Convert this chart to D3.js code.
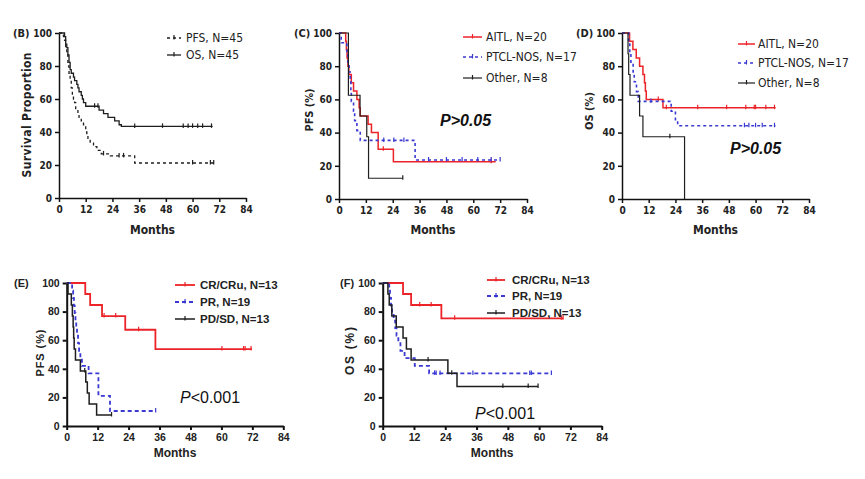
<!DOCTYPE html>
<html><head><meta charset="utf-8">
<script src="https://cdn.jsdelivr.net/npm/d3@7"></script>
<style>body{margin:0;background:#fff} svg{display:block}</style>
</head><body><svg id="c" width="865" height="479"></svg>
<script>
// ---- tick labels ----
const monthTicks = [0, 12, 24, 36, 48, 60, 72, 84];
const pctTicks = [0, 20, 40, 60, 80, 100];

// ---- Panel B (all patients) : [month, survival %] events ----
const B_PFS = [[2,97.8],[2.5,95.6],[3,91.1],[3.5,86.7],[4,80],[4.5,75.6],[5,71.1],[5.5,66.7],[6,62.2],[6.5,60],[7,57.8],[7.5,53.3],[8.5,51.1],[9,48.9],[10,46.7],[11,44.4],[12,40],[12.5,37.8],[13,35.6],[14,33.3],[15.5,31.1],[17,28.9],[19,26.7],[23,25.5],[34,21.2]];
const B_PFS_END = 70, B_PFS_CENS = [20, 27, 29, 60, 68, 69.5];
const B_OS = [[2.5,97.8],[3,93.3],[3.5,91.1],[4,86.7],[4.5,82.2],[5,77.8],[5.5,75.6],[6.5,73.3],[7,71.1],[8,68.9],[8.5,66.7],[9,64.4],[10,62.2],[10.5,60],[11,57.8],[12,55.6],[18,53.3],[20,51.1],[22,48.9],[25,46.7],[27,44.4],[28,43.4]];
const B_OS_END = 69, B_OS_CENS = [16, 17.5, 34, 46.5, 55.8, 58, 60, 62.3, 64.5, 68.5];

// ---- Panel C (PFS by subtype) ----
const C_AITL = [[3,95],[3.3,90],[3.6,85],[4,80],[4.4,75],[5.5,70],[6.5,65],[8,60],[9,55],[9.5,50],[13,45],[14.5,40],[17.5,30],[24.3,22.5]];
const C_AITL_END = 70, C_AITL_CENS = [19.8, 68];
const C_PTCL = [[1,94.1],[3.5,88.2],[4,82.4],[4.5,76.5],[5,70.6],[5.3,64.7],[5.5,58.8],[6.5,52.9],[7,47.1],[8,41.2],[9.5,35.3],[34,23.5]];
const C_PTCL_END = 72, C_PTCL_CENS = [20, 24.5, 29, 40, 48, 55, 62, 68, 72];
const C_OTHER = [[4.2,62.5],[9.4,50],[12.4,37.5],[13.2,12.5]];
const C_OTHER_END = 28.5, C_OTHER_CENS = [28.5];

// ---- Panel D (OS by subtype) ----
const D_AITL = [[3.4,95],[4.9,90],[6.4,85],[7.9,80],[9.4,75],[10.1,70],[10.5,65],[10.9,60],[18.4,55]];
const D_AITL_END = 69, D_AITL_CENS = [16.3, 19.9, 34, 47, 55.6, 59.4, 60, 64.6, 68.5];
const D_PTCL = [[3,94.1],[3.5,88.2],[4,82.4],[5,76.5],[5.5,70.6],[6.5,64.7],[7.3,58.8],[22.1,52.9],[24,47.1],[25,44.1]];
const D_PTCL_END = 69, D_PTCL_CENS = [13, 55, 57, 60, 63, 68.5];
const D_OTHER = [[2.7,87.5],[3.0,75],[3.6,62.5],[7.9,50],[9.4,37.5],[28.1,0]];
const D_OTHER_END = 28.1, D_OTHER_CENS = [21.5];

// ---- Panel E (PFS by response) ----
const E_CR = [[7.2,92.3],[9.1,84.6],[13.7,76.9],[22.7,67.3],[34.4,53.8]];
const E_CR_END = 71.8, E_CR_CENS = [14.5, 19, 27.9, 60.2, 68.6, 69.2, 71.5];
const E_PR = [[2.1,94.7],[2.5,89.5],[2.8,84.2],[3.1,78.9],[3.4,73.7],[3.7,68.4],[4.0,63.2],[4.4,57.9],[4.8,52.6],[5.3,47.4],[5.9,42.1],[8.5,36.8],[12.3,21.1],[16.8,10.5]];
const E_PR_END = 34.5, E_PR_CENS = [34.5];
const E_PD = [[0.5,92.3],[1.8,84.6],[2.2,76.9],[2.5,69.2],[2.7,61.5],[2.9,53.8],[3.4,46.2],[5.3,38.5],[7.4,30.8],[8,23.1],[8.7,15.4],[11.6,7.7]];
const E_PD_END = 17.4, E_PD_CENS = [7, 17.4];

// ---- Panel F (OS by response) ----
const F_CR = [[7.8,92.3],[10.9,84.6],[22.5,75.3]];
const F_CR_END = 69.2, F_CR_CENS = [14.2, 18.6, 27.6, 68.5, 69.2];
const F_PR = [[2.5,94.7],[2.8,89.5],[3.2,84.2],[3.6,78.9],[4.2,73.7],[4.8,68.4],[5.3,63.2],[6,57.9],[6.8,52.6],[8.4,47.4],[12.3,42.1],[17.8,36.8]];
const F_PR_END = 64.7, F_PR_CENS = [19.9, 20.5, 22, 34.6, 56.4, 57, 64.7];
const F_PD = [[2,92.3],[2.5,84.6],[3.5,76.9],[5.2,69.2],[7.8,61.5],[9.1,53.8],[10.9,46.2],[25,36.9],[28.5,27.7]];
const F_PD_END = 59.6, F_PD_CENS = [17.4, 26.5, 46.1, 55.8, 59.6];

// ---- styles ----
const RED = "#ec2328", BLUE = "#3a3ad2", BLACK = "#1e1e1e";
const NARROW = "'Liberation Sans Narrow','DejaVu Sans Condensed','Arial Narrow',sans-serif";
const ARIAL = "'Liberation Sans',Arial,sans-serif";

const svg = d3.select("#c");

function panel(p) {
  const g = svg.append("g");
  const x = d3.scaleLinear().domain([0, 84]).range([p.x0, p.x1]);
  const y = d3.scaleLinear().domain([0, 100]).range([p.y0, p.y1]);
  const tf = p.top ? NARROW : ARIAL;

  const ax = g.append("g").attr("transform", `translate(0,${p.y0})`)
    .call(d3.axisBottom(x).tickValues(monthTicks).tickSize(4).tickSizeOuter(0).tickPadding(4));
  const ay = g.append("g").attr("transform", `translate(${p.x0},0)`)
    .call(d3.axisLeft(y).tickValues(pctTicks).tickSize(4).tickSizeOuter(0).tickPadding(3));
  [ax, ay].forEach(a => {
    a.selectAll("path,line").attr("stroke", "#111").attr("stroke-width", p.axW);
    a.selectAll("text").attr("font-family", tf).attr("font-size", p.tickFs)
      .attr("font-weight", "bold").attr("fill", "#222");
  });

  g.append("text").attr("x", (p.x0 + p.x1) / 2 + p.mDx).attr("y", p.monthsY)
    .attr("text-anchor", "middle").attr("font-family", tf).attr("font-weight", "bold")
    .attr("font-size", 12).attr("fill", "#222").text("Months");

  g.append("text").attr("transform", `translate(${p.ytX},${p.ytY}) rotate(-90)`)
    .attr("text-anchor", "middle").attr("font-family", tf).attr("font-weight", "bold")
    .attr("font-size", p.ytFs).attr("fill", "#222")
    .attr("textLength", p.ytLen).attr("lengthAdjust", "spacing").text(p.ytitle);

  g.append("text").attr("x", p.labX).attr("y", p.labY).attr("font-family", tf)
    .attr("font-weight", "bold").attr("font-size", 11).attr("fill", "#222").text(p.label);

  const line = d3.line().x(d => x(d[0])).y(d => y(d[1])).curve(d3.curveStepAfter);
  p.series.forEach(s => {
    const last = s.ev.length ? s.ev[s.ev.length - 1][1] : 100;
    const pts = [[0, 100]].concat(s.ev, [[s.end, last]]);
    g.append("path").attr("d", line(pts)).attr("fill", "none").attr("stroke", s.color)
      .attr("stroke-width", s.w).attr("stroke-dasharray", s.dash || null);
    s.cens.forEach(c => {
      let v = 100;
      s.ev.forEach(e => { if (e[0] <= c) v = e[1]; });
      g.append("line").attr("x1", x(c)).attr("x2", x(c)).attr("y1", y(v) - 3).attr("y2", y(v) + 1.5)
        .attr("stroke", s.color).attr("stroke-width", 1.2);
    });
  });

  // legend
  p.series.forEach((s, i) => {
    const ly = p.legY[i];
    g.append("line").attr("x1", p.legX0).attr("x2", p.legX1).attr("y1", ly - 4).attr("y2", ly - 4)
      .attr("stroke", s.color).attr("stroke-width", s.w).attr("stroke-dasharray", s.dash || null);
    const mx = (p.legX0 + p.legX1) / 2;
    g.append("line").attr("x1", mx).attr("x2", mx).attr("y1", ly - 7).attr("y2", ly - 2.5)
      .attr("stroke", s.color).attr("stroke-width", 1.2);
    g.append("text").attr("x", p.legTx).attr("y", ly).attr("font-family", tf)
      .attr("font-weight", p.top ? "normal" : "bold").attr("font-size", p.legFs)
      .attr("fill", "#222").text(s.name);
  });

  if (p.pval) {
    const t = g.append("text").attr("x", p.pX).attr("y", p.pY).attr("font-family", ARIAL)
      .attr("font-size", 16).attr("fill", "#111");
    if (p.top) {
      t.attr("font-weight", "bold").attr("font-style", "italic").text(p.pval);
    } else {
      t.append("tspan").attr("font-style", "italic").text(p.pval[0]);
      t.append("tspan").text(p.pval.slice(1));
    }
  }
}

panel({top: true, x0: 59, x1: 246, y0: 198, y1: 33, axW: 1.5, tickFs: 10, mDx: 0, monthsY: 234,
  ytitle: "Survival Proportion", ytX: 31, ytY: 115, ytFs: 12, ytLen: 125, label: "(B)", labX: 13, labY: 37,
  legX0: 167, legX1: 181, legTx: 186, legY: [42, 59], legFs: 12,
  series: [
    {name: "PFS, N=45", ev: B_PFS, end: B_PFS_END, cens: B_PFS_CENS, color: BLACK, w: 1.3, dash: "3,3"},
    {name: "OS, N=45", ev: B_OS, end: B_OS_END, cens: B_OS_CENS, color: BLACK, w: 1.3}
  ]});

panel({top: true, x0: 339, x1: 527, y0: 199, y1: 33, axW: 1.5, tickFs: 10, mDx: 0, monthsY: 234,
  ytitle: "PFS (%)", ytX: 313, ytY: 110, ytFs: 11, ytLen: 43, label: "(C)", labX: 294, labY: 37,
  legX0: 463, legX1: 482, legTx: 486, legY: [41, 61, 82], legFs: 12,
  pval: "P>0.05", pX: 440, pY: 126,
  series: [
    {name: "AITL, N=20", ev: C_AITL, end: C_AITL_END, cens: C_AITL_CENS, color: RED, w: 1.5},
    {name: "PTCL-NOS, N=17", ev: C_PTCL, end: C_PTCL_END, cens: C_PTCL_CENS, color: BLUE, w: 1.6, dash: "3,3"},
    {name: "Other, N=8", ev: C_OTHER, end: C_OTHER_END, cens: C_OTHER_CENS, color: BLACK, w: 1.2}
  ]});

panel({top: true, x0: 622, x1: 809, y0: 199, y1: 33, axW: 1.5, tickFs: 10, mDx: 0, monthsY: 234,
  ytitle: "OS (%)", ytX: 593, ytY: 111, ytFs: 11, ytLen: 38, label: "(D)", labX: 576, labY: 37,
  legX0: 738, legX1: 755, legTx: 758, legY: [48, 67, 87], legFs: 12,
  pval: "P>0.05", pX: 730, pY: 154,
  series: [
    {name: "AITL, N=20", ev: D_AITL, end: D_AITL_END, cens: D_AITL_CENS, color: RED, w: 1.5},
    {name: "PTCL-NOS, N=17", ev: D_PTCL, end: D_PTCL_END, cens: D_PTCL_CENS, color: BLUE, w: 1.6, dash: "3,3"},
    {name: "Other, N=8", ev: D_OTHER, end: D_OTHER_END, cens: D_OTHER_CENS, color: BLACK, w: 1.2}
  ]});

panel({top: false, x0: 66.7, x1: 283.3, y0: 426, y1: 283, axW: 2, tickFs: 10.5, mDx: 0, monthsY: 457,
  ytitle: "PFS (%)", ytX: 44, ytY: 353, ytFs: 11, ytLen: 47, label: "(E)", labX: 14, labY: 287,
  legX0: 175, legX1: 195, legTx: 200, legY: [289, 306, 323], legFs: 11.5,
  pval: "P<0.001", pX: 180, pY: 403,
  series: [
    {name: "CR/CRu, N=13", ev: E_CR, end: E_CR_END, cens: E_CR_CENS, color: RED, w: 1.8},
    {name: "PR, N=19", ev: E_PR, end: E_PR_END, cens: E_PR_CENS, color: BLUE, w: 1.8, dash: "4,3"},
    {name: "PD/SD, N=13", ev: E_PD, end: E_PD_END, cens: E_PD_CENS, color: BLACK, w: 1.5}
  ]});

panel({top: false, x0: 382.7, x1: 601.7, y0: 426, y1: 283, axW: 2, tickFs: 10.5, mDx: 0, monthsY: 457,
  ytitle: "OS (%)", ytX: 354, ytY: 351, ytFs: 12, ytLen: 48, label: "(F)", labX: 340, labY: 287,
  legX0: 487, legX1: 505, legTx: 512, legY: [284, 300, 317], legFs: 11.5,
  pval: "P<0.001", pX: 475, pY: 419,
  series: [
    {name: "CR/CRu, N=13", ev: F_CR, end: F_CR_END, cens: F_CR_CENS, color: RED, w: 1.8},
    {name: "PR, N=19", ev: F_PR, end: F_PR_END, cens: F_PR_CENS, color: BLUE, w: 1.8, dash: "4,3"},
    {name: "PD/SD, N=13", ev: F_PD, end: F_PD_END, cens: F_PD_CENS, color: BLACK, w: 1.5}
  ]});
</script></body></html>
